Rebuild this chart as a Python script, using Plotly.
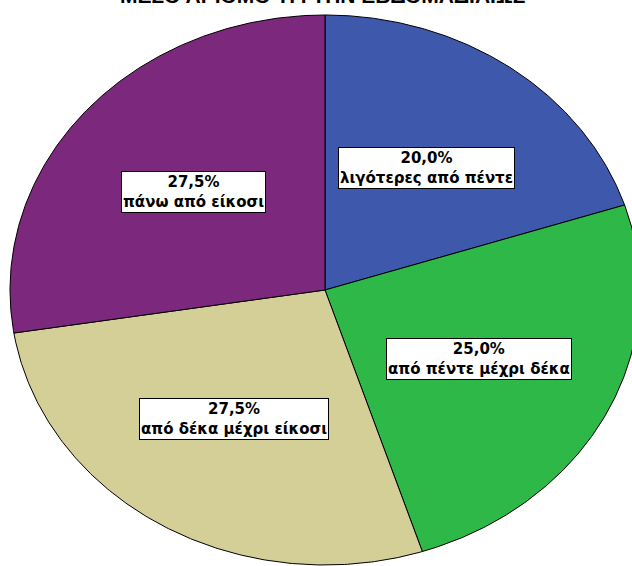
import numpy as np
import plotly.graph_objects as go

title = "ΜΕΣΟ ΑΡΙΘΜΟ ΤΡ. ΤΗΝ ΕΒΔΟΜΑΔΙΑΙΩΣ"
categories = ["λιγότερες από πέντε", "από πέντε μέχρι δέκα", "από δέκα μέχρι είκοσι", "πάνω από είκοσι"]
percents = [20.0, 25.0, 27.5, 27.5]
colors = ["#3E58AC", "#2EB848", "#D4CE97", "#7C287D"]

fig = go.Figure()

total = sum(percents)
start = 0.0
label_r = 0.55
for cat, p, c in zip(categories, percents, colors):
    end = start + p / total * 2 * np.pi
    th = np.linspace(start, end, 200)
    xs = np.concatenate([[0], np.sin(th), [0]])
    ys = np.concatenate([[0], np.cos(th), [0]])
    fig.add_trace(go.Scatter(x=xs, y=ys, mode="lines", fill="toself", fillcolor=c,
                             line=dict(color="black", width=1), hoverinfo="skip",
                             showlegend=False))
    mid = (start + end) / 2
    txt = f"{p:.1f}%".replace(".", ",") + "<br>" + cat
    fig.add_annotation(x=label_r * np.sin(mid), y=label_r * np.cos(mid), text=txt,
                       showarrow=False, bgcolor="white", bordercolor="black", borderwidth=1,
                       borderpad=1,
                       font=dict(family="DejaVu Sans", size=15, color="black", weight="bold"))
    start = end

fig.add_annotation(xref="paper", yref="paper", x=0.51, y=1, yanchor="bottom", xanchor="center",
                   yshift=-9, showarrow=False, text=title,
                   font=dict(family="Liberation Sans", size=21, color="black", weight="bold"))

fig.update_layout(
    width=632, height=566,
    margin=dict(l=0, r=0, t=0, b=0),
    paper_bgcolor="white", plot_bgcolor="white",
    xaxis=dict(range=[-325 / 315, (632 - 325) / 315], visible=False, fixedrange=True),
    yaxis=dict(range=[-276 / 275, 290 / 275], visible=False, fixedrange=True),
    showlegend=False,
)

fig.write_html("out.html", config={"displayModeBar": False},
               post_script="document.body.style.margin='0';document.body.style.overflow='hidden';")
